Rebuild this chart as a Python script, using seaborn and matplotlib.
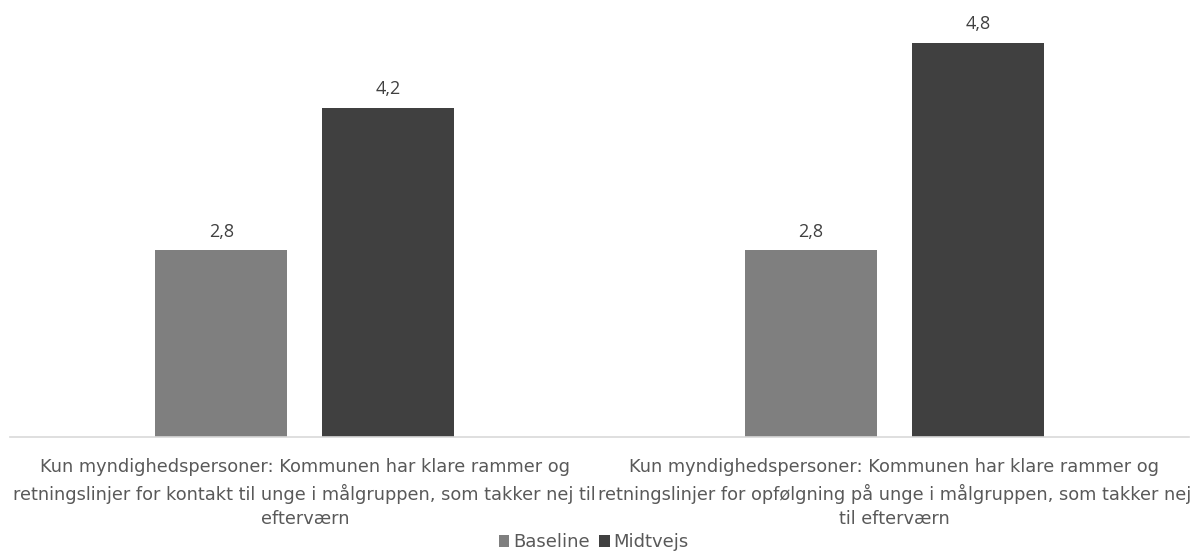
import matplotlib
matplotlib.use("Agg")
import matplotlib.pyplot as plt
import seaborn as sns
import pandas as pd
from matplotlib import font_manager as fm
from matplotlib.patches import Patch

categories = [
    "Kun myndighedspersoner: Kommunen har klare rammer og\nretningslinjer for kontakt til unge i målgruppen, som takker nej til\nefterværn",
    "Kun myndighedspersoner: Kommunen har klare rammer og\nretningslinjer for opfølgning på unge i målgruppen, som takker nej\ntil efterværn",
]
series_names = ["Baseline", "Midtvejs"]
baseline = [2.8, 2.8]
midtvejs = [4.17, 4.8]
colors = ["#7f7f7f", "#404040"]

names = {f.name for f in fm.fontManager.ttflist}
cat_font = "DejaVu Sans"
label_font = "Open Sans" if "Open Sans" in names else "DejaVu Sans"

rows = []
for c, b, m in zip(categories, baseline, midtvejs):
    rows.append({"cat": c, "serie": series_names[0], "val": b})
    rows.append({"cat": c, "serie": series_names[1], "val": m})
df = pd.DataFrame(rows)

sns.set_theme(style="white")
fig = plt.figure(figsize=(11.99, 5.52), dpi=100)
ax = fig.add_axes([10 / 1199, (552 - 437) / 552, 1179 / 1199, (437 - 22) / 552])

sns.barplot(data=df, x="cat", y="val", hue="serie", order=categories,
            hue_order=series_names, palette=colors, width=0.567, gap=0.21,
            ax=ax, legend=False, saturation=1, edgecolor="none")

ax.set_ylim(1, 5)
ax.set_xlim(-0.5, 1.5)
ax.set_xlabel("")
ax.set_ylabel("")
ax.set_yticks([])
for s in ["top", "right", "left"]:
    ax.spines[s].set_visible(False)
ax.spines["bottom"].set_color("#d9d9d9")
ax.spines["bottom"].set_linewidth(1.2)
ax.tick_params(axis="x", length=0, pad=15)
for t in ax.get_xticklabels():
    t.set_fontfamily(cat_font)
    t.set_fontsize(12.8)
    t.set_color("#595959")
    t.set_linespacing(1.48)

for cont in ax.containers:
    labels = [f"{v:.1f}".replace(".", ",") for v in cont.datavalues]
    ax.bar_label(cont, labels=labels, padding=7, fontsize=13, color="#404040",
                 fontfamily=label_font, clip_on=False)

handles = [Patch(facecolor=c, edgecolor="none") for c in colors]
leg = fig.legend(handles, series_names, loc="lower center", bbox_to_anchor=(0.495, -0.028),
                 ncol=2, frameon=False, handlelength=0.6, handleheight=0.6,
                 handletextpad=0.2, columnspacing=0.5,
                 prop={"family": cat_font, "size": 13})
for t in leg.get_texts():
    t.set_color("#595959")

fig.savefig("out.png", dpi=100)
